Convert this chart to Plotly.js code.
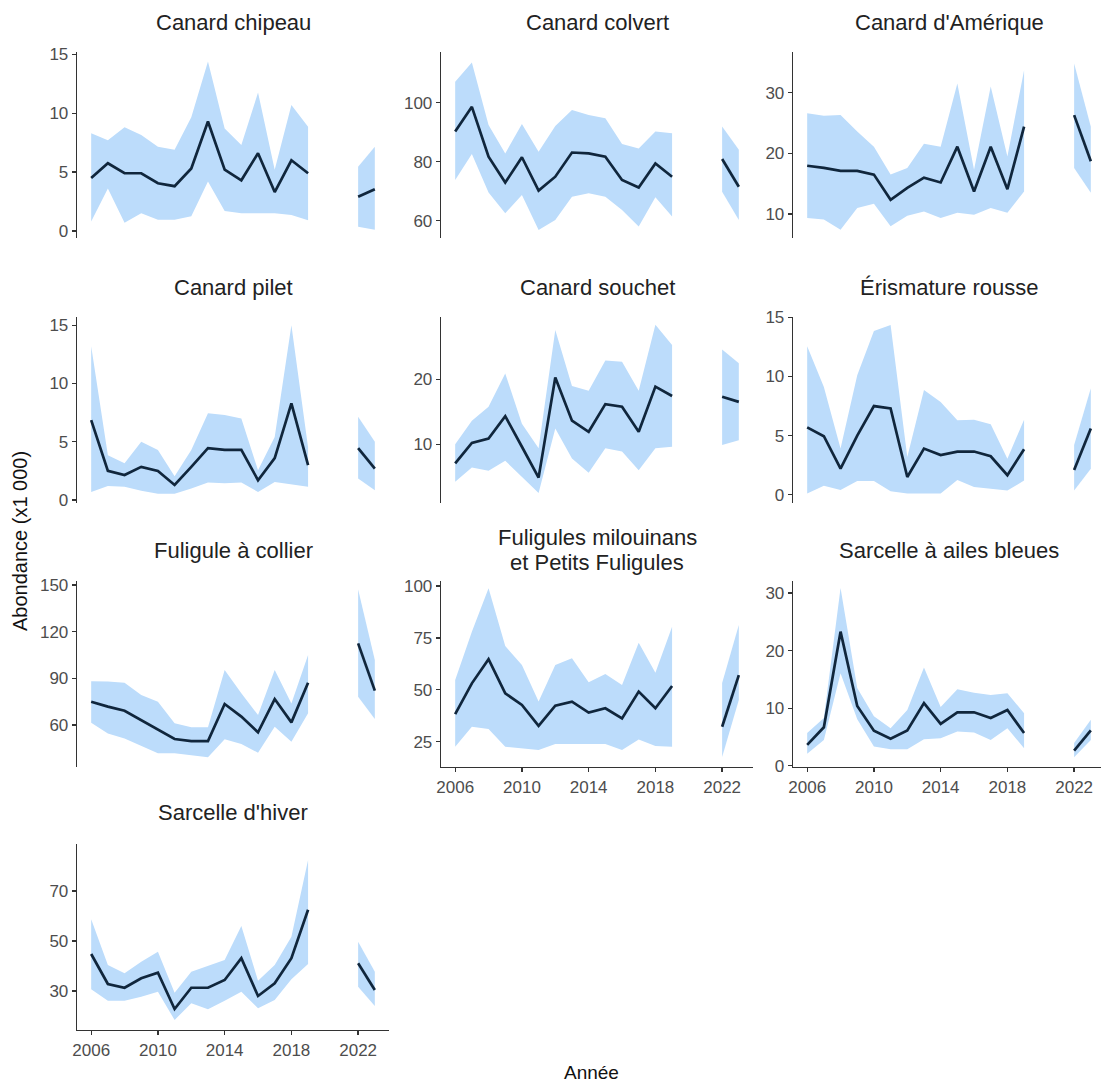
<!DOCTYPE html>
<html>
<head>
<meta charset="utf-8">
<script src="https://cdn.plot.ly/plotly-3.0.1.min.js"></script>
<style>html,body{margin:0;padding:0;background:#fff;}#chart{width:1101px;height:1084px;}</style>
</head>
<body>
<div id="chart"></div>
<script>
const years = [2006,2007,2008,2009,2010,2011,2012,2013,2014,2015,2016,2017,2018,2019,2022,2023];

const titles = ["Canard chipeau","Canard colvert","Canard d'Amérique","Canard pilet","Canard souchet","Érismature rousse","Fuligule à collier","Fuligules milouinans<br>et Petits Fuligules","Sarcelle à ailes bleues","Sarcelle d'hiver"];

const chipeauMean = [4.5,5.75,4.9,4.9,4.05,3.8,5.3,9.3,5.2,4.3,6.6,3.3,6.0,4.9,2.9,3.55];
const chipeauLow  = [0.8,3.6,0.7,1.5,0.95,0.95,1.25,4.2,1.7,1.5,1.5,1.5,1.35,0.9,0.35,0.1];
const chipeauHigh = [8.3,7.7,8.8,8.15,7.15,6.9,9.65,14.4,8.7,7.3,11.75,5.2,10.7,8.85,5.45,7.15];

const colvertMean = [90.2,98.6,81.7,72.9,81.5,70.2,74.9,83.1,82.8,81.7,73.8,71.2,79.4,74.9,80.9,71.5];
const colvertLow  = [73.8,82.6,69.5,62.5,68.7,56.8,60.2,68.1,69.3,68.1,63.6,58.0,67.9,61.4,69.8,60.2];
const colvertHigh = [107.1,113.6,92.4,82.8,92.8,83.4,92.1,97.5,95.8,94.7,86.0,84.5,90.2,89.6,91.9,84.0];

const ameriqueMean = [17.95,17.6,17.1,17.1,16.5,12.35,14.3,16.0,15.2,21.1,13.7,21.1,14.1,24.4,26.3,18.7];
const ameriqueLow  = [9.35,9.1,7.4,11.0,11.7,8.0,9.7,10.4,9.35,10.2,9.9,11.0,10.2,13.7,17.6,13.5];
const ameriqueHigh = [26.6,26.2,26.3,23.6,21.1,16.5,17.6,21.6,21.1,31.5,17.3,31.0,19.5,33.7,34.8,24.4];

const piletMean = [6.85,2.5,2.15,2.85,2.5,1.3,2.85,4.45,4.3,4.3,1.7,3.6,8.3,3.0,4.45,2.7];
const piletLow  = [0.7,1.2,1.15,0.8,0.55,0.55,1.0,1.5,1.45,1.5,0.7,1.55,1.35,1.15,1.85,0.85];
const piletHigh = [13.2,3.85,3.15,5.0,4.3,2.05,4.3,7.45,7.3,7.0,2.55,5.4,15.0,4.5,7.15,5.0];

const souchetMean = [7.1,10.25,10.9,14.35,9.65,4.9,20.3,13.65,11.95,16.2,15.8,11.95,18.9,17.45,17.35,16.55];
const souchetLow  = [4.25,6.45,5.95,7.5,5.0,2.55,12.45,7.85,5.65,9.4,8.9,6.05,9.4,9.65,9.9,10.65];
const souchetHigh = [10.05,13.65,15.8,20.9,13.2,9.4,27.6,19.0,18.25,22.9,22.7,18.25,28.4,25.3,24.6,22.5];

const erismatureMean = [5.7,4.95,2.2,5.0,7.5,7.3,1.5,3.9,3.35,3.65,3.65,3.25,1.65,3.85,2.1,5.6];
const erismatureLow  = [0.1,0.75,0.4,1.15,1.15,0.3,0.1,0.1,0.1,1.25,0.65,0.5,0.35,1.2,0.35,2.2];
const erismatureHigh = [12.55,9.1,3.9,10.1,13.85,14.35,3.2,8.85,7.85,6.3,6.35,5.95,3.05,6.35,4.2,9.0];

const collierMean = [75.0,71.8,69.2,63.2,57.2,51.0,49.7,49.7,73.5,65.4,55.3,76.7,61.7,87.2,112.5,82.1];
const collierLow  = [61.5,54.6,51.4,46.7,41.8,41.8,40.7,39.2,50.8,47.8,42.2,58.9,49.3,67.5,78.2,63.9];
const collierHigh = [88.1,87.9,87.2,79.3,75.0,61.1,58.5,58.5,95.4,80.4,66.4,95.4,73.9,105.0,147.2,101.8];

const milouinanMean = [38.3,53.1,64.7,48.3,42.7,32.6,42.3,44.3,39.0,41.1,36.2,49.1,41.1,51.8,32.2,57.1];
const milouinanLow  = [22.6,32.2,31.1,22.6,21.8,21.0,23.9,23.9,23.9,23.9,21.0,26.1,22.9,22.6,17.6,45.1];
const milouinanHigh = [54.7,78.0,98.9,71.1,61.9,44.3,61.9,65.2,53.6,57.6,52.3,72.7,58.2,80.4,53.3,81.2];

const aileBleueMean = [3.65,6.7,23.3,10.4,6.1,4.7,6.15,10.9,7.3,9.3,9.3,8.3,9.7,5.7,2.65,6.15];
const aileBleueLow  = [2.1,4.5,16.1,8.1,3.35,2.9,2.9,4.6,4.8,5.95,5.8,4.5,6.55,3.05,1.5,4.5];
const aileBleueHigh = [5.7,8.3,30.9,13.5,8.6,6.55,9.7,17.1,10.2,13.3,12.7,12.3,12.6,9.15,3.95,8.0];

const hiverMean = [44.8,32.8,31.3,35.1,37.3,22.8,31.3,31.3,34.4,43.1,28.0,33.1,43.1,62.5,41.1,30.4];
const hiverLow  = [30.7,26.1,26.1,27.7,29.7,18.4,25.1,22.7,26.1,29.7,23.1,26.4,34.7,40.8,31.7,24.0];
const hiverHigh = [58.7,40.4,37.1,41.7,45.7,29.3,37.7,40.0,42.4,56.0,34.1,40.4,51.7,82.4,49.7,37.7];

const xTicks = [2006,2010,2014,2018,2022];
const yTicks = [[0,5,10,15],[60,80,100],[10,20,30],[0,5,10,15],[10,20],[0,5,10,15],[60,90,120,150],[25,50,75,100],[0,10,20,30],[30,50,70]];

const means = [chipeauMean,colvertMean,ameriqueMean,piletMean,souchetMean,erismatureMean,collierMean,milouinanMean,aileBleueMean,hiverMean];
const lows  = [chipeauLow,colvertLow,ameriqueLow,piletLow,souchetLow,erismatureLow,collierLow,milouinanLow,aileBleueLow,hiverLow];
const highs = [chipeauHigh,colvertHigh,ameriqueHigh,piletHigh,souchetHigh,erismatureHigh,collierHigh,milouinanHigh,aileBleueHigh,hiverHigh];

// ---- layout geometry (pixels) ----
const W = 1101, H = 1084;
const colPx = [[77,389],[441,753],[793,1105]];
const rowPx = [[52,238],[317,503],[581,767],[844,1030]];
const titleY = [23,287,550,812];
const titleLineGap = 25;
const yRanges = [[-0.6,15.2],[54.1,117.2],[6.05,36.7],[-0.25,15.7],[1.0,29.6],[-0.7,15.03],[33,152.6],[12.8,102.4],[-0.2,32.1],[14.4,88.8]];
const xFull = [2005.15,2023.85];
const showX = [false,false,false,false,false,false,false,true,true,true];

const FILL = '#bcdcfb';
const LINE = '#10263c';
const FONT = 'Liberation Sans, Arial, sans-serif';

const traces = [];
const layout = {
  width: W, height: H,
  margin: {l:0,r:0,t:0,b:0},
  paper_bgcolor: '#fff', plot_bgcolor: 'rgba(0,0,0,0)',
  showlegend: false,
  hovermode: false,
  font: {family: FONT},
  annotations: []
};

function segments(){
  const segs = [];
  let cur = [0];
  for (let i = 1; i < years.length; i++){
    if (years[i] - years[i-1] > 1){ segs.push(cur); cur = []; }
    cur.push(i);
  }
  segs.push(cur);
  return segs;
}
const segs = segments();

for (let p = 0; p < 10; p++){
  const row = Math.floor(p/3), col = p % 3;
  const n = p + 1;
  const xa = 'x' + (n === 1 ? '' : n), ya = 'y' + (n === 1 ? '' : n);
  const xk = 'xaxis' + (n === 1 ? '' : n), yk = 'yaxis' + (n === 1 ? '' : n);
  const c0 = colPx[col][0], c1 = Math.min(colPx[col][1], W);
  const pxPerYear = (colPx[col][1]-colPx[col][0]) / (xFull[1]-xFull[0]);
  const xr = [xFull[0], xFull[0] + (c1-c0)/pxPerYear];

  segs.forEach(idx => {
    const sx = idx.map(i => years[i]);
    const hi = idx.map(i => highs[p][i]);
    const lo = idx.map(i => lows[p][i]);
    traces.push({
      type:'scatter', mode:'lines', xaxis:xa, yaxis:ya,
      x: sx.concat(sx.slice().reverse()),
      y: hi.concat(lo.slice().reverse()),
      fill:'toself', fillcolor:FILL, line:{width:0, color:FILL}, hoverinfo:'skip'
    });
  });
  segs.forEach(idx => {
    traces.push({
      type:'scatter', mode:'lines', xaxis:xa, yaxis:ya,
      x: idx.map(i => years[i]),
      y: idx.map(i => means[p][i]),
      line:{color:LINE, width:2.7}, hoverinfo:'skip'
    });
  });

  layout[xk] = {
    domain:[c0/W, c1/W], range: xr, anchor: ya,
    showgrid:false, zeroline:false,
    showline: showX[p], linecolor:'#333', linewidth:1.3,
    ticks: showX[p] ? 'outside' : '', ticklen:4, tickcolor:'#333', tickwidth:1.3,
    showticklabels: showX[p], tickvals: xTicks,
    tickfont:{size:17, color:'#4d4d4d', family:FONT}, fixedrange:true
  };
  layout[yk] = {
    domain:[1 - rowPx[row][1]/H, 1 - rowPx[row][0]/H], range: yRanges[p], anchor: xa,
    showgrid:false, zeroline:false,
    showline:true, linecolor:'#333', linewidth:1.3,
    ticks:'outside', ticklen:4, tickcolor:'#333', tickwidth:1.3,
    tickvals: yTicks[p], tickfont:{size:17, color:'#4d4d4d', family:FONT}, fixedrange:true
  };
  const lines = titles[p].split('<br>');
  lines.forEach((ln, k) => {
    const cy = titleY[row] + (k - (lines.length-1)/2) * titleLineGap;
    layout.annotations.push({
      xref:'paper', yref:'paper', showarrow:false,
      x: ((colPx[col][0]+colPx[col][1])/2)/W, y: 1 - cy/H,
      xanchor:'center', yanchor:'middle',
      text: ln, font:{size:22, color:'#222', family:FONT}
    });
  });
}

layout.annotations.push({
  xref:'paper', yref:'paper', showarrow:false, x: 20/W, y: 1 - 541/H,
  xanchor:'center', yanchor:'middle', textangle:-90,
  text:'Abondance (x1 000)', font:{size:20, color:'#111', family:FONT}
});
layout.annotations.push({
  xref:'paper', yref:'paper', showarrow:false, x: 591/W, y: 1 - 1072/H,
  xanchor:'center', yanchor:'middle',
  text:'Année', font:{size:19, color:'#111', family:FONT}
});

Plotly.newPlot('chart', traces, layout, {staticPlot:true, displayModeBar:false});
</script>
</body>
</html>
